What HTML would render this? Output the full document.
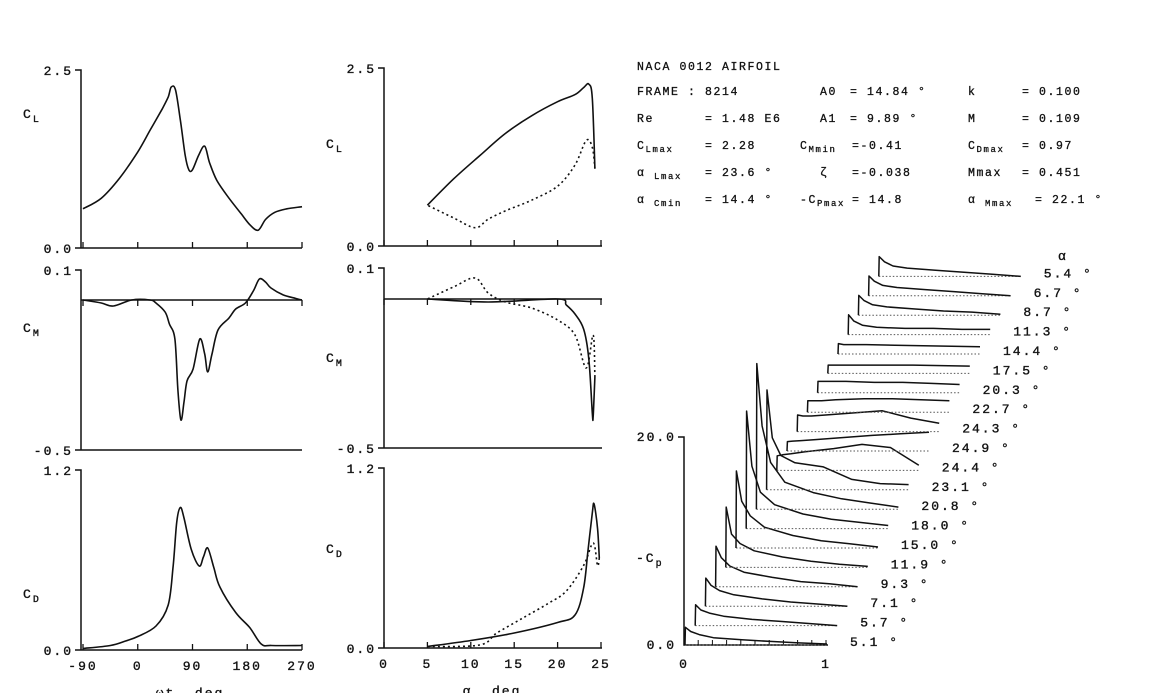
<!DOCTYPE html>
<html><head><meta charset="utf-8"><style>
html,body{margin:0;padding:0;background:#fff;}
svg{display:block;font-family:"Liberation Mono",monospace;}
.t{font-size:13px;letter-spacing:2px;fill:#111;stroke:#111;stroke-width:0.35;}
.h{font-size:11.5px;letter-spacing:1.6px;fill:#111;stroke:#111;stroke-width:0.3;}
</style></head><body>
<svg id="c" width="1155" height="693" viewBox="0 0 1155 693">
<g class="h">
<text x="637" y="70">NACA 0012 AIRFOIL</text>
<text x="637" y="95">FRAME : 8214</text><text x="820" y="95">A0</text><text x="850" y="95">= 14.84 °</text><text x="968" y="95">k</text><text x="1022" y="95">= 0.100</text>
<text x="637" y="122">Re</text><text x="705" y="122">= 1.48 E6</text><text x="820" y="122">A1</text><text x="850" y="122">= 9.89 °</text><text x="968" y="122">M</text><text x="1022" y="122">= 0.109</text>
<text x="637" y="149">C<tspan font-size="9" dy="3">Lmax</tspan><tspan dy="-3" x="705">= 2.28</tspan></text><text x="800" y="149">C<tspan font-size="9" dy="3">Mmin</tspan></text><text x="852" y="149">=-0.41</text><text x="968" y="149">C<tspan font-size="9" dy="3">Dmax</tspan></text><text x="1022" y="149">= 0.97</text>
<text x="637" y="176">α <tspan font-size="9" dy="3">Lmax</tspan></text><text x="705" y="176">= 23.6 °</text><text x="820" y="176">ζ</text><text x="852" y="176">=-0.038</text><text x="968" y="176">Mmax</text><text x="1022" y="176">= 0.451</text>
<text x="637" y="203">α <tspan font-size="9" dy="3">Cmin</tspan></text><text x="705" y="203">= 14.4 °</text><text x="800" y="203">-C<tspan font-size="9" dy="3">Pmax</tspan></text><text x="852" y="203">= 14.8</text><text x="968" y="203">α <tspan font-size="9" dy="3">Mmax</tspan></text><text x="1035" y="203">= 22.1 °</text>
</g>
<g id="g"></g>
</svg>
<script>
// ---- data ----
const wtTicks=[-90,0,90,180,270];
const aTicks=[0,5,10,15,20,25];
const clWt=[-90,-60,-30,0,20,40,50,55,62,70,78,84,90,100,110,118,130,150,170,185,198,210,225,245,270];
const clWtV=[0.55,0.7,0.98,1.35,1.65,1.95,2.12,2.26,2.22,1.8,1.3,1.1,1.1,1.3,1.43,1.2,0.95,0.7,0.48,0.32,0.25,0.4,0.5,0.55,0.58];
const cmWt=[-90,-60,-40,-10,20,30,45,52,61,66,71,76,81,91,102,110,115,122,132,150,161,177,190,200,210,219,239,260,270];
const cmWtV=[0,-0.01,-0.02,0,0,-0.01,-0.04,-0.08,-0.13,-0.3,-0.4,-0.34,-0.27,-0.23,-0.13,-0.18,-0.24,-0.18,-0.1,-0.06,-0.03,-0.01,0.03,0.07,0.06,0.04,0.017,0.005,0];
const cdWt=[-90,-45,-20,0,30,50,58,64,70,76,88,101,108,115,125,135,161,184,203,220,270];
const cdWtV=[0.01,0.03,0.06,0.09,0.16,0.3,0.55,0.85,0.95,0.88,0.67,0.56,0.62,0.68,0.55,0.42,0.25,0.15,0.04,0.03,0.03];
const clA=[5,8,11,14,17,20,22,23,23.6,24,24.3];
const clAV=[0.58,0.95,1.28,1.6,1.85,2.05,2.15,2.25,2.3,2.1,1.1];
const clAd=[24.3,24,23.3,22,20,17,14,12,10.5,8,5];
const clAdV=[1.1,1.4,1.5,1.15,0.85,0.65,0.5,0.38,0.26,0.4,0.58];
const cmA=[5,12,20,21,22,23,23.6,24,24.1,24.3];
const cmAV=[0,-0.01,0,-0.02,-0.05,-0.1,-0.2,-0.38,-0.39,-0.26];
const cmAd=[24.3,24.1,23.3,22,20,17,14,12,10.5,8,5];
const cmAdV=[-0.26,-0.12,-0.23,-0.12,-0.07,-0.03,-0.01,0.02,0.07,0.04,0];
const cdA=[5,10,15,20,22,23,23.5,24,24.2,24.6,24.8];
const cdAV=[0.01,0.05,0.1,0.17,0.22,0.4,0.65,0.9,0.96,0.8,0.6];
const cdAd=[24.8,24.6,24.1,23,21,19,16,13,11,5];
const cdAdV=[0.6,0.55,0.7,0.55,0.38,0.3,0.2,0.1,0.02,0.01];
const cpX=[0,0.003,0.04,0.1,0.2,0.4,0.6,0.8,1.0];
const cpAlpha=["5.1","5.7","7.1","9.3","11.9","15.0","18.0","20.8","23.1","24.4","24.9","24.3","22.7","20.3","17.5","14.4","11.3","8.7","6.7","5.4"];
const cpVals=[
[0,1.7,1.3,1.0,0.7,0.5,0.35,0.2,0.1],
[0,2.0,1.5,1.2,0.9,0.6,0.4,0.2,0],
[0,2.7,2.0,1.5,1.1,0.7,0.4,0.2,0],
[0,3.9,2.8,2.0,1.4,0.9,0.5,0.3,0],
[0,5.8,3.2,2.3,1.6,1.0,0.6,0.3,0.1],
[0,7.4,4.5,3.1,2.0,1.2,0.7,0.4,0.1],
[0,11.3,6,3.5,2.3,1.4,0.9,0.6,0.3],
[0,14,8,4.5,2.6,1.6,1.0,0.6,0.2],
[0,9.6,5,3.3,2.6,2.2,1.0,0.6,0.5],
[0,1.4,1.5,1.6,1.8,2.1,2.5,2.2,0.5],
[0,0.9,0.95,1.0,1.1,1.3,1.5,1.65,1.8],
[0,1.6,1.5,1.5,1.6,1.8,2.0,1.3,0.8],
[0,1.1,1.1,1.1,1.2,1.3,1.3,1.2,1.1],
[0,1.1,1.1,1.1,1.1,1.0,1.0,0.9,0.8],
[0,0.8,0.8,0.8,0.8,0.8,0.8,0.75,0.7],
[0,1.0,0.9,0.9,0.9,0.85,0.8,0.75,0.7],
[0,1.9,1.3,0.9,0.7,0.6,0.6,0.5,0.5],
[0,1.9,1.4,1.0,0.8,0.6,0.4,0.3,0.1],
[0,1.9,1.4,1.0,0.8,0.6,0.4,0.2,0],
[0,1.9,1.4,1.0,0.8,0.6,0.4,0.2,0]];
// ---- drawing ----
const NS="http://www.w3.org/2000/svg";
const G=document.getElementById('g');
function el(t,a,txt){const e=document.createElementNS(NS,t);for(const k in a)e.setAttribute(k,a[k]);if(txt!==undefined)e.textContent=txt;G.appendChild(e);return e;}
const xW=v=>83+(v+90)*(219/360);
const xA=v=>384+v*(217/25);
const yCL=v=>248-v*71.2;
const yCM=v=>300-v*300;
const yCD=v=>650-v*150;
function smooth(pts){let d='M'+pts[0][0].toFixed(1)+','+pts[0][1].toFixed(1);
for(let i=0;i<pts.length-1;i++){const p0=pts[i-1]||pts[i],p1=pts[i],p2=pts[i+1],p3=pts[i+2]||p2;
d+=' C'+(p1[0]+(p2[0]-p0[0])/6).toFixed(1)+','+(p1[1]+(p2[1]-p0[1])/6).toFixed(1)+' '+(p2[0]-(p3[0]-p1[0])/6).toFixed(1)+','+(p2[1]-(p3[1]-p1[1])/6).toFixed(1)+' '+p2[0].toFixed(1)+','+p2[1].toFixed(1);}return d;}
function curve(xs,vs,fx,fy,name,dash){const p=el('path',{d:smooth(xs.map((x,i)=>[fx(x),fy(vs[i])])),fill:'none',stroke:'#111','stroke-width':1.6,'stroke-dasharray':dash||'none'});

}
function axis(x0,x1,yTop,yBot,yAx,topLbl,botLbl,ticks,fx,name,yLab,lbl){
const a=el('path',{d:`M${x0-6},${yTop}H${x0}V${yBot}M${x0-6},${yBot}H${x1}`,fill:'none',stroke:'#111','stroke-width':1.5});


if(yAx!==yBot){const z=el('line',{x1:x0,x2:x1,y1:yAx,y2:yAx,stroke:'#111','stroke-width':1.5});

}
ticks.forEach(t=>{const tk=el('line',{x1:fx(t),x2:fx(t),y1:yAx,y2:yAx-(yAx===yBot?6:-6),stroke:'#111','stroke-width':1.3});

});
const l1=el('text',{x:x0-8,y:yTop+5,'text-anchor':'end',class:'t'},topLbl);


const l2=el('text',{x:x0-8,y:yBot+5,'text-anchor':'end',class:'t'},botLbl);


const yl=el('text',{x:x0-58,y:yLab,class:'t'});
yl.innerHTML='C<tspan font-size="10" dy="4">'+lbl+'</tspan>';

}
axis(81,302,70,248,248,'2.5','0.0',wtTicks,xW,'cl-vs-wt',118,'L');
axis(81,302,270,450,300,'0.1','-0.5',wtTicks,xW,'cm-vs-wt',332,'M');
axis(81,302,470,650,650,'1.2','0.0',wtTicks,xW,'cd-vs-wt',598,'D');
axis(384,602,68,246,246,'2.5','0.0',aTicks,xA,'cl-vs-alpha',148,'L');
axis(384,602,268,448,299,'0.1','-0.5',aTicks,xA,'cm-vs-alpha',362,'M');
axis(384,602,468,648,648,'1.2','0.0',aTicks,xA,'cd-vs-alpha',553,'D');
wtTicks.forEach(t=>{const e=el('text',{x:xW(t),y:670,'text-anchor':'middle',class:'t'},String(t));

});
aTicks.forEach(t=>{const e=el('text',{x:xA(t),y:668,'text-anchor':'middle',class:'t'},String(t));

});
const xt1=el('text',{x:190,y:697,'text-anchor':'middle',class:'t'},'ωt, deg');


const xt2=el('text',{x:492,y:695,'text-anchor':'middle',class:'t'},'α, deg');


curve(clWt,clWtV,xW,yCL,'cl-wt-line');
curve(cmWt,cmWtV,xW,yCM,'cm-wt-line');
curve(cdWt,cdWtV,xW,yCD,'cd-wt-line');
const yCL2=v=>246-v*70.4, yCM2=v=>299-v*300, yCD2=v=>648-v*150;
curve(clA,clAV,xA,yCL2,'cl-alpha-upstroke');
curve(clAd,clAdV,xA,yCL2,'cl-alpha-downstroke','2,3');
curve(cmA,cmAV,xA,yCM2,'cm-alpha-upstroke');
curve(cmAd,cmAdV,xA,yCM2,'cm-alpha-downstroke','2,3');
curve(cdA,cdAV,xA,yCD2,'cd-alpha-upstroke');
curve(cdAd,cdAdV,xA,yCD2,'cd-alpha-downstroke','2,3');
const cpAx=el('path',{d:'M678,437H684V645H828',fill:'none',stroke:'#111','stroke-width':1.5});


[0,0.1,0.2,0.3,0.4,0.5,0.6,0.7,0.8,0.9,1].forEach(t=>{const k=el('line',{x1:684+t*142,x2:684+t*142,y1:645,y2:640,stroke:'#111'});

});
[['20.0',441],['0.0',649]].forEach(([s,y])=>{const e=el('text',{x:676,y:y,'text-anchor':'end',class:'t'},s);

});
[['0',684],['1',826]].forEach(([s,x])=>{const e=el('text',{x:x,y:668,'text-anchor':'middle',class:'t'},s);

});
const cpl=el('text',{x:636,y:562,class:'t'});
cpl.innerHTML='-C<tspan font-size="10" dy="4">p</tspan>';


const ah=el('text',{x:1058,y:260,class:'t'},'α');


cpVals.forEach((vals,i)=>{
 const x0=685+10.2*i, b=645-19.4*i;
 const bl=el('line',{x1:x0,x2:x0+142,y1:b,y2:b,stroke:'#555','stroke-width':1,'stroke-dasharray':'1.5,2'});
 
 
 const d=cpX.map((x,j)=>(j?'L':'M')+(x0+x*142).toFixed(1)+','+(b-vals[j]*10.4).toFixed(1)).join(' ');
 const p=el('path',{d:d,fill:'none',stroke:'#111','stroke-width':1.5,'stroke-linejoin':'round'});
 
 
 const lb=el('text',{x:x0+165,y:b+1,class:'t'},cpAlpha[i]+' °');
 
 
});
</script>
</body></html>
